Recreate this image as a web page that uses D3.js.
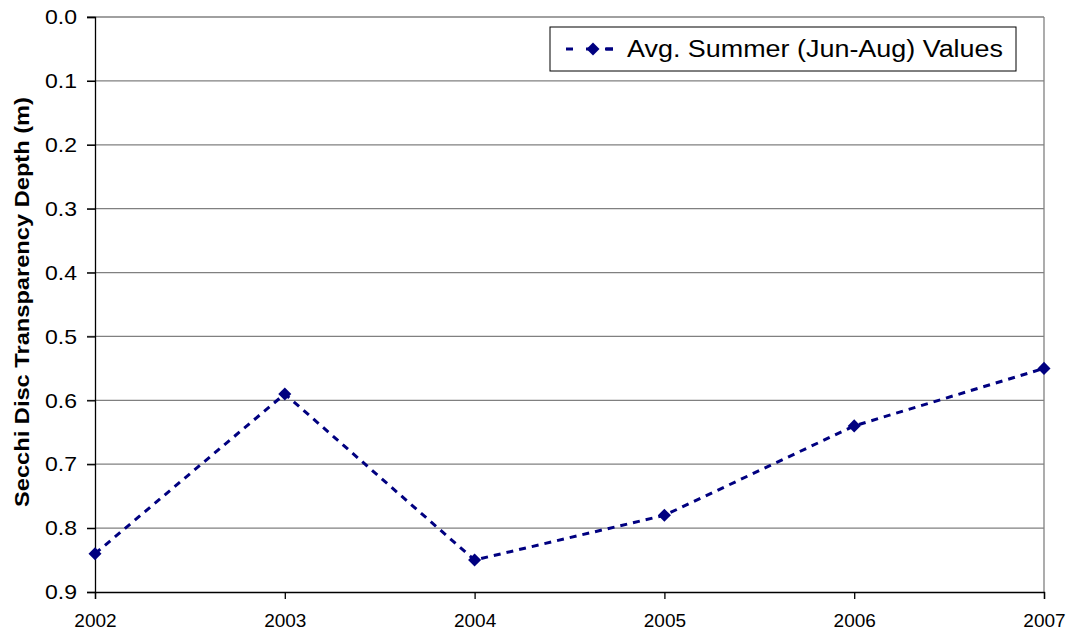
<!DOCTYPE html>
<html>
<head>
<meta charset="utf-8">
<script src="https://cdn.jsdelivr.net/npm/d3@7"></script>
<style>
  body { margin: 0; background: #fff; }
  svg { display: block; font-family: "Liberation Sans", Arial, sans-serif; }
</style>
</head>
<body>
<svg id="chart" width="1071" height="634"></svg>
<script>
const years = [2002, 2003, 2004, 2005, 2006, 2007];
const depths = [0.84, 0.59, 0.85, 0.78, 0.64, 0.55];
const yTicks = [0.0, 0.1, 0.2, 0.3, 0.4, 0.5, 0.6, 0.7, 0.8, 0.9];
const seriesName = "Avg. Summer (Jun-Aug) Values";
const yTitle = "Secchi Disc Transparency Depth (m)";

const svg = d3.select("#chart");
const m = { left: 95, right: 1044, top: 17, bottom: 592 };
const navy = "#000080";

const x = d3.scaleLinear().domain([2002, 2007]).range([m.left, m.right]);
const y = d3.scaleLinear().domain([0, 0.9]).range([m.top, m.bottom]);

// gridlines
svg.append("g").selectAll("line")
  .data(yTicks.slice(0, -1))
  .enter().append("line")
  .attr("x1", m.left - 8).attr("x2", m.right)
  .attr("y1", d => y(d)).attr("y2", d => y(d))
  .attr("stroke", "#808080").attr("stroke-width", 1.3);

// right edge
svg.append("line")
  .attr("x1", m.right).attr("x2", m.right)
  .attr("y1", m.top).attr("y2", m.bottom)
  .attr("stroke", "#808080").attr("stroke-width", 1.3);

// y axis
const yAxis = svg.append("g")
  .attr("transform", "translate(" + m.left + ",0)")
  .call(d3.axisLeft(y).tickValues(yTicks).tickFormat(d3.format(".1f")).tickSize(8).tickPadding(10));
yAxis.select(".domain").attr("stroke", "#000").attr("stroke-width", 1.3);
yAxis.selectAll(".tick line").attr("stroke", "#000").attr("stroke-width", 1.3);
yAxis.selectAll("text").attr("font-size", "21px").attr("fill", "#000")
  .attr("font-family", "Liberation Sans, Arial, sans-serif")
  .attr("textLength", 32).attr("lengthAdjust", "spacingAndGlyphs");

// x axis
const xAxis = svg.append("g")
  .attr("transform", "translate(0," + m.bottom + ")")
  .call(d3.axisBottom(x).tickValues(years).tickFormat(d3.format("d")).tickSize(7).tickPadding(15));
xAxis.select(".domain").attr("stroke", "#000").attr("stroke-width", 1.3);
xAxis.selectAll(".tick line").attr("stroke", "#000").attr("stroke-width", 1.3);
xAxis.selectAll("text").attr("font-size", "19px").attr("fill", "#000")
  .attr("font-family", "Liberation Sans, Arial, sans-serif");

// y title
svg.append("text")
  .attr("transform", "translate(29," + 302 + ") rotate(-90)")
  .attr("text-anchor", "middle")
  .attr("font-size", "21px")
  .attr("font-weight", "bold")
  .attr("textLength", 410).attr("lengthAdjust", "spacingAndGlyphs")
  .text(yTitle);

// series
const data = years.map((yr, i) => ({ yr, v: depths[i] }));
const line = d3.line().x(d => x(d.yr)).y(d => y(d.v));
svg.append("path")
  .datum(data)
  .attr("d", line)
  .attr("fill", "none")
  .attr("stroke", navy)
  .attr("stroke-width", 3)
  .attr("stroke-dasharray", "7,6");

const diamond = d3.symbol().type(d3.symbolSquare).size(85);
svg.append("g").selectAll("path")
  .data(data)
  .enter().append("path")
  .attr("d", diamond)
  .attr("transform", d => "translate(" + x(d.yr) + "," + y(d.v) + ") rotate(45)")
  .attr("fill", navy);

// legend
const lg = svg.append("g").attr("transform", "translate(550,27)");
lg.append("rect")
  .attr("width", 466).attr("height", 44)
  .attr("fill", "#fff").attr("stroke", "#000").attr("stroke-width", 1);
lg.append("line")
  .attr("x1", 16).attr("x2", 63).attr("y1", 22).attr("y2", 22)
  .attr("stroke", navy).attr("stroke-width", 3).attr("stroke-dasharray", "7,13");
lg.append("line")
  .attr("x1", 55).attr("x2", 63).attr("y1", 22).attr("y2", 22)
  .attr("stroke", navy).attr("stroke-width", 3);
lg.append("path")
  .attr("d", diamond)
  .attr("transform", "translate(43,22) rotate(45)")
  .attr("fill", navy);
lg.append("text")
  .attr("x", 77).attr("y", 30)
  .attr("font-size", "23px")
  .attr("textLength", 376).attr("lengthAdjust", "spacingAndGlyphs")
  .text(seriesName);
</script>
</body>
</html>
